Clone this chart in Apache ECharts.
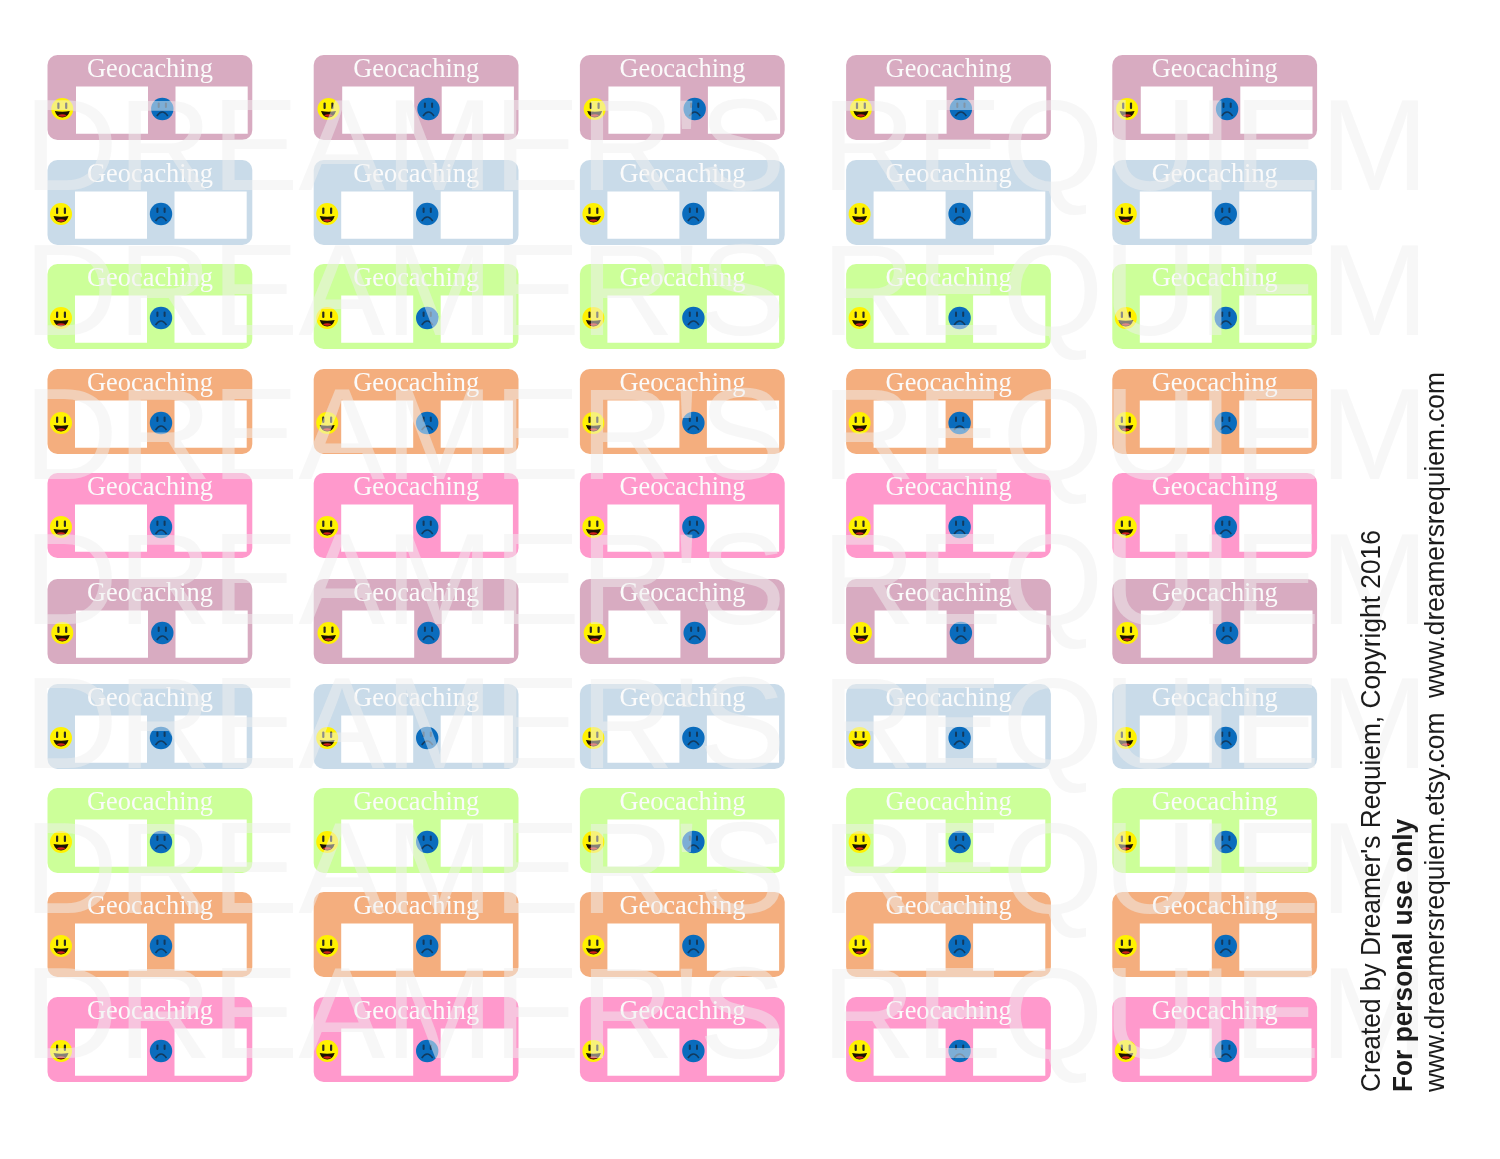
<!DOCTYPE html>
<html><head><meta charset="utf-8">
<style>html,body{margin:0;padding:0;background:#fff}#c{width:1500px;height:1159px}</style>
<script src="https://cdn.jsdelivr.net/npm/echarts@6/dist/echarts.min.js"></script>
</head><body><div id="c"></div>
<script>
const columns = [0, 1, 2, 3, 4];
const rows = [0, 1, 2, 3, 4, 5, 6, 7, 8, 9];
const rowColors = ['#d8abc1', '#c9dbe9', '#ccff99', '#f4ae7e', '#ff99cc', '#d8abc1', '#c9dbe9', '#ccff99', '#f4ae7e', '#ff99cc'];
const stickerTitle = 'Geocaching';
const watermarkText = "DREAMER'S REQUIEM";
const watermarkRows = [0, 1, 2, 3, 4, 5, 6];
const creditLines = ["Created by Dreamer's Requiem, Copyright 2016", 'For personal use only', 'www.dreamersrequiem.etsy.com  www.dreamersrequiem.com'];

const COL_PITCH = 266.2, ROW_PITCH = 104.67, LEFT = 47.5, TOP = 55;
const rowNudgeX = [1, 0, 0, 0, 0, 1, 0, 0, 0, 0];
const rowNudgeY = [0, 0, 0, 0, -1, 1, 1, 0, 0, 0];

const chart = echarts.init(document.getElementById('c'), null, {renderer: 'canvas', width: 1500, height: 1159});

function smiley(cx, cy) {
  return {type: 'group', children: [
    {type: 'circle', shape: {cx, cy, r: 11}, style: {fill: '#fff200'}},
    {type: 'rect', shape: {x: cx - 5, y: cy - 6.5, width: 2.2, height: 6.5, r: 1}, style: {fill: '#2a2a20'}},
    {type: 'rect', shape: {x: cx + 2.8, y: cy - 6.5, width: 2.2, height: 6.5, r: 1}, style: {fill: '#2a2a20'}},
    {type: 'path', shape: {pathData: `M${cx - 7.5} ${cy + 2} Q${cx} ${cy + 3.5} ${cx + 7.5} ${cy + 2} Q${cx + 5.5} ${cy + 8.5} ${cx} ${cy + 8.5} Q${cx - 5.5} ${cy + 8.5} ${cx - 7.5} ${cy + 2} Z`}, style: {fill: '#1a1100'}},
    {type: 'path', shape: {pathData: `M${cx - 4.5} ${cy + 6.2} Q${cx} ${cy + 4.5} ${cx + 4.5} ${cy + 6.2} Q${cx} ${cy + 9.5} ${cx - 4.5} ${cy + 6.2} Z`}, style: {fill: '#d0201a'}}
  ]};
}
function frowny(cx, cy) {
  return {type: 'group', children: [
    {type: 'circle', shape: {cx, cy, r: 11.2}, style: {fill: '#0a6cbd'}},
    {type: 'rect', shape: {x: cx - 4.6, y: cy - 6.5, width: 2, height: 5.5, r: 1}, style: {fill: '#123a5e'}},
    {type: 'rect', shape: {x: cx + 2.6, y: cy - 6.5, width: 2, height: 5.5, r: 1}, style: {fill: '#123a5e'}},
    {type: 'path', shape: {pathData: `M${cx - 5.5} ${cy + 7} Q${cx} ${cy - 1} ${cx + 5.5} ${cy + 7}`}, style: {fill: 'none', stroke: '#123a5e', lineWidth: 1.6}}
  ]};
}

function renderSticker(params, api) {
  const col = api.value(0), row = api.value(1);
  const p = api.coord([col, row]);
  const x = p[0], y = Math.round(p[1]) + rowNudgeY[row];
  const d = rowNudgeX[row];
  return {type: 'group', children: [
    {type: 'rect', shape: {x, y, width: 204.8, height: 85, r: 10}, style: {fill: rowColors[row]}},
    {type: 'text', style: {text: stickerTitle, x: x + 102.5, y: y + 15, align: 'center', verticalAlign: 'middle', fill: '#fbfbfb', font: '26.4px "Liberation Serif"'}},
    {type: 'rect', shape: {x: x + 27.5 + d, y: y + 31.5, width: 72, height: 47.3}, style: {fill: '#fff'}},
    {type: 'rect', shape: {x: x + 127 + d, y: y + 31.5, width: 72.2, height: 47.3}, style: {fill: '#fff'}},
    smiley(x + 13.5 + 1.3 * d, y + 54),
    frowny(x + 113.5 + 1.3 * d, y + 54)
  ]};
}
function renderWatermark(params, api) {
  const y = 98.5 + api.value(0) * 144.6;
  return {type: 'text', style: {text: watermarkText, x: 24, y: y + 55.6, align: 'left', verticalAlign: 'middle', fill: 'rgba(240,240,240,0.5)', font: '130px "Liberation Sans"'}};
}
function renderCredits(params, api) {
  const i = api.value(0);
  const xs = [1372, 1404, 1436];
  return {type: 'text', rotation: Math.PI / 2, scaleX: 0.939, x: xs[i], y: 1092, style: {text: creditLines[i], x: 0, y: 0, align: 'left', verticalAlign: 'middle', fill: '#1c1c1c', font: (i === 1 ? 'bold ' : '') + '28px "Liberation Sans"'}};
}

const stickerData = [];
rows.forEach(r => columns.forEach(c => stickerData.push([c, r])));

chart.setOption({
  animation: false,
  backgroundColor: '#ffffff',
  grid: {left: 0, right: 0, top: 0, bottom: 0},
  xAxis: {type: 'value', show: false, min: -LEFT / COL_PITCH, max: (1500 - LEFT) / COL_PITCH},
  yAxis: {type: 'value', show: false, inverse: true, min: -TOP / ROW_PITCH, max: (1159 - TOP) / ROW_PITCH},
  series: [
    {type: 'custom', silent: true, clip: false, z: 1, renderItem: renderSticker, data: stickerData},
    {type: 'custom', silent: true, clip: false, z: 3, renderItem: renderCredits, data: creditLines.map((_, i) => [i])},
    {type: 'custom', silent: true, clip: false, z: 2, renderItem: renderWatermark, data: watermarkRows.map(i => [i])}
  ]
});
</script></body></html>
